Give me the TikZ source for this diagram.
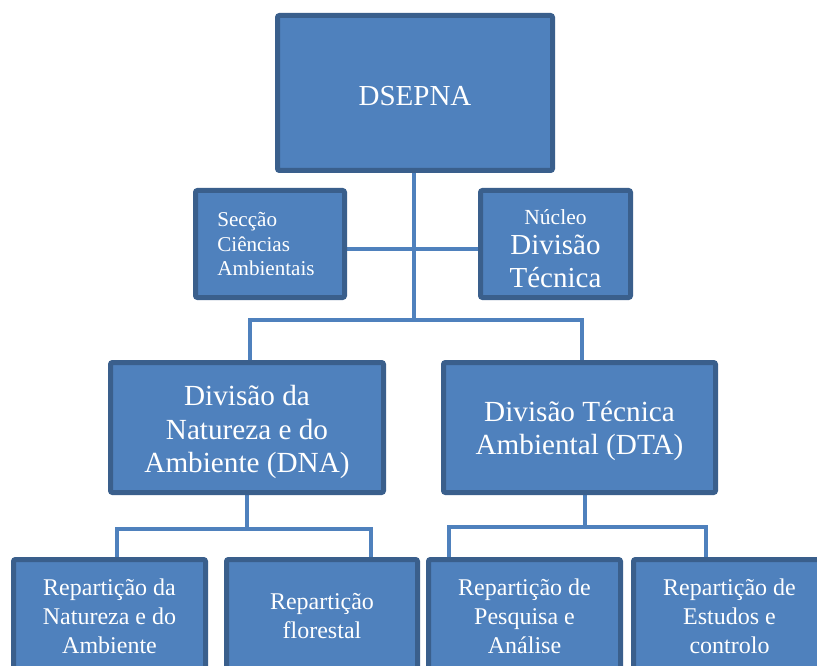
\documentclass[tikz,border=0pt]{standalone}
\usepackage{fontspec}
\setmainfont{Liberation Serif}
\newfontfamily\tnr{Liberation Serif}
\usetikzlibrary{backgrounds}
\definecolor{boxfill}{HTML}{4F81BD}
\definecolor{boxborder}{HTML}{3A5F8C}
\tikzset{
  orgbox/.style={draw=boxborder, fill=boxfill, line width=5pt, rounded corners=2pt, inner sep=0pt},
  txt/.style={text=white, inner sep=0pt, align=center},
  link/.style={draw=boxfill, line width=3.5pt},
  fsA/.style={font=\tnr\fontsize{29}{34}\selectfont},
  fsB/.style={font=\tnr\fontsize{29.2}{33.5}\selectfont},
  fsC/.style={font=\tnr\fontsize{24}{29}\selectfont},
  fsD/.style={font=\tnr\fontsize{21.1}{24.5}\selectfont},
  fsN/.style={font=\tnr\fontsize{29}{33}\selectfont},
}
\begin{document}
\begin{tikzpicture}[x=1pt, y=-1pt]
\useasboundingbox (0,0) rectangle (817,666);
\clip (0,0) rectangle (817,666);

% boxes
\node[orgbox, minimum width=275, minimum height=155] (top) at (415,93) {};
\node[orgbox, minimum width=149, minimum height=107] (sec) at (270,244) {};
\node[orgbox, minimum width=150, minimum height=107] (nuc) at (555.5,244) {};
\node[orgbox, minimum width=273, minimum height=130] (dna) at (247,427.5) {};
\node[orgbox, minimum width=272, minimum height=130] (dta) at (579.5,427.5) {};
\node[orgbox, minimum width=192, minimum height=113] (b1) at (109.5,616) {};
\node[orgbox, minimum width=191, minimum height=113] (b2) at (322,616) {};
\node[orgbox, minimum width=192, minimum height=113] (b3) at (524.5,616) {};
\node[orgbox, minimum width=192, minimum height=113] (b4) at (729.5,616) {};

% texts
\node[txt, fsA] (topT) at ([yshift=-3pt]top.center) {DSEPNA};
\node[txt, fsD, align=left] (secT) at ([xshift=-4pt]sec.center) {Secção\\Ciências\\Ambientais};
\node[txt, fsN] (nucT) at ([yshift=-4.5pt]nuc.center)
  {{\fontsize{21.5}{24}\selectfont Núcleo}\\[-3pt]Divisão\\Técnica};
\node[txt, fsB] (dnaT) at ([yshift=-4.5pt]dna.center) {Divisão da\\Natureza e do\\Ambiente (DNA)};
\node[txt, fsB] (dtaT) at ([yshift=-3.5pt]dta.center) {Divisão Técnica\\Ambiental (DTA)};
\node[txt, fsC] (b1T) at (b1.center) {Repartição da\\Natureza e do\\Ambiente};
\node[txt, fsC] (b2T) at (b2.center) {Repartição\\florestal};
\node[txt, fsC] (b3T) at (b3.center) {Repartição de\\Pesquisa e\\Análise};
\node[txt, fsC] (b4T) at (b4.center) {Repartição de\\Estudos e\\controlo};

\coordinate (j1) at (414,320);
\coordinate (j2) at (247,529);
\coordinate (j3) at (585,527);
\coordinate (h) at ([yshift=-5pt]sec.east);

\begin{scope}[on background layer]
\fill[white] (0,0) rectangle (817,666);
\draw[link] ([xshift=-1pt]top.south) -- (j1);
\draw[link] (h) -- (h -| nuc.west);
\draw[link] ([xshift=3pt]dna.north) |- (j1) -| ([xshift=2.5pt]dta.north);
\draw[link] (dna.south) -- (j2);
\draw[link] ([xshift=7.5pt]b1.north) |- (j2) -| ([xshift=49pt]b2.north);
\draw[link] ([xshift=5.5pt]dta.south) -- (j3);
\draw[link] ([xshift=-75.5pt]b3.north) |- (j3) -| ([xshift=-23.5pt]b4.north);
\end{scope}
\end{tikzpicture}
\end{document}
